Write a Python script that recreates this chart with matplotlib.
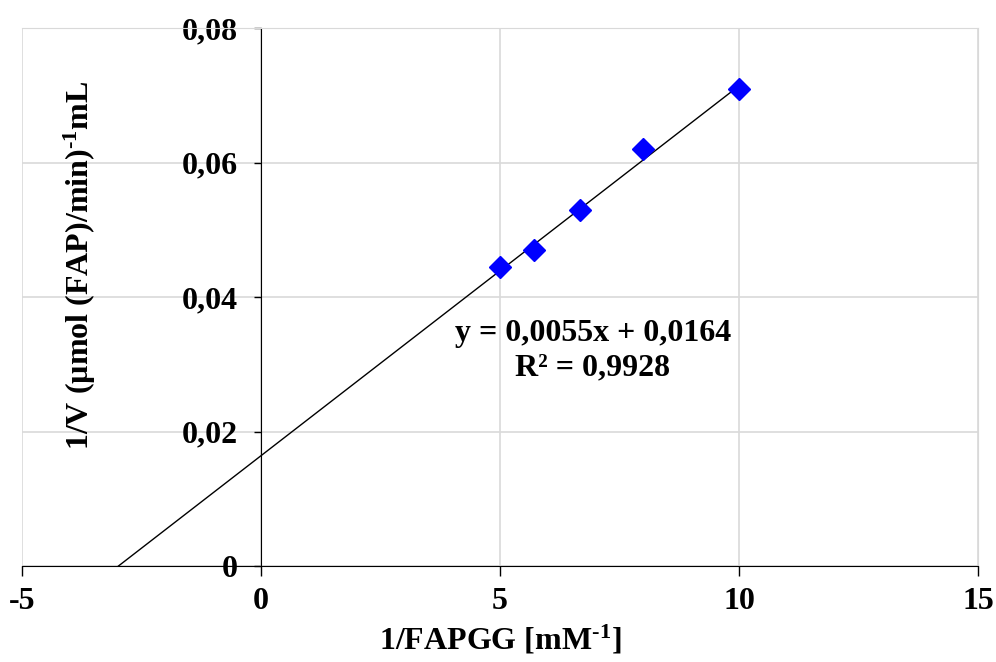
import numpy as np
import matplotlib.pyplot as plt

# datos Lineweaver-Burk
inv_s = [5.0, 5.714, 6.667, 8.0, 10.0]
inv_v = [0.0445, 0.0470, 0.0530, 0.0620, 0.0709]
pendiente = 0.0055
ordenada = 0.0164
r2 = 0.9928
xticks = [-5, 0, 5, 10, 15]
yticks = [0, 0.02, 0.04, 0.06, 0.08]

plt.rcParams['font.family'] = ['Liberation Serif', 'DejaVu Serif']
plt.rcParams['font.weight'] = 'bold'
plt.rcParams['mathtext.fontset'] = 'custom'
plt.rcParams['mathtext.rm'] = 'Liberation Serif:bold'
plt.rcParams['mathtext.it'] = 'Liberation Serif:bold'
plt.rcParams['mathtext.bf'] = 'Liberation Serif:bold'
plt.rcParams['mathtext.default'] = 'rm'

fig = plt.figure(figsize=(9.96, 6.62), dpi=100)
ax = fig.add_axes([22/996, 96/662, 956/996, 538/662])

ax.spines['left'].set_position(('data', 0))
ax.spines['left'].set_color('black')
ax.spines['bottom'].set_color('black')
ax.spines['top'].set_color('#d9d9d9')
ax.spines['right'].set_color('#d9d9d9')

# linea de tendencia
x0 = -ordenada / pendiente
xl = np.array([x0, max(inv_s)])
ax.plot(xl, pendiente * xl + ordenada, color='black', lw=1, zorder=3)
ax.plot(inv_s, inv_v, 'D', color='#0000ff', markersize=11, zorder=4, clip_on=False)

ax.set_xlim(-5, 15)
ax.set_ylim(0, 0.08)
ax.set_xticks(xticks)
ax.set_yticks(yticks)
ax.set_xticklabels([str(t) for t in xticks], fontsize=23, fontweight='bold')
ax.set_yticklabels(['0' if t == 0 else f'{t:.2f}'.replace('.', ',') for t in yticks],
                   fontsize=23, fontweight='bold')
ax.grid(True, color='#d9d9d9', lw=1.2, zorder=0)
ax.set_axisbelow(True)

ax.tick_params(axis='y', direction='out', length=5, pad=12, color='black', width=1)
ax.tick_params(axis='x', direction='out', length=7, pad=8, color='black', width=1)

ax.text(593, 662 - 333, 'y = 0,0055x + 0,0164', transform=None, fontsize=23,
        ha='center', va='center', fontweight='bold')
ax.text(593, 662 - 368, 'R² = 0,9928', transform=None, fontsize=23,
        ha='center', va='center', fontweight='bold')

fig.text(500/996, 1 - 640/662, r'1/FAPGG [mM$^{\text{-1}}$]', fontsize=23,
         ha='center', va='center', fontweight='bold')
fig.text(80/996, 1 - 265/662, r'1/V (µmol (FAP)/min)$^{\text{-1}}$mL', fontsize=23,
         ha='center', va='center', rotation=90, fontweight='bold')

fig.savefig('out.png', dpi=100)
